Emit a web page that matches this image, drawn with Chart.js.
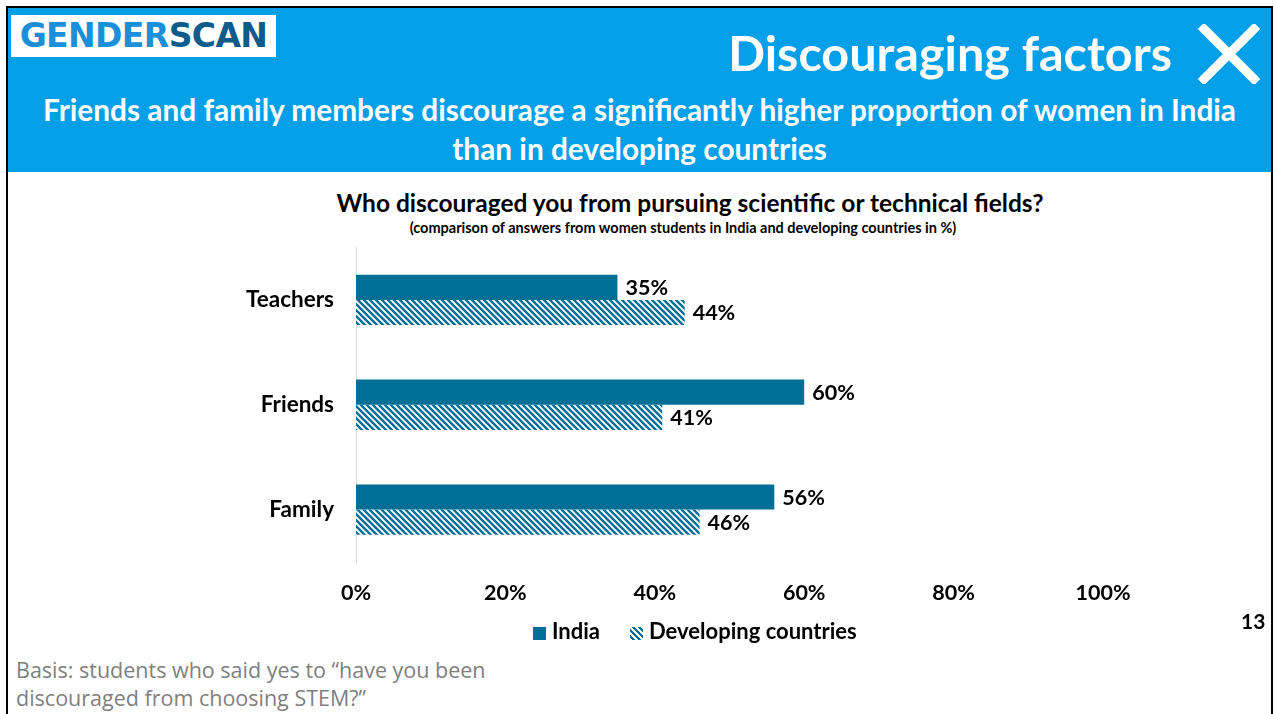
<!DOCTYPE html>
<html>
<head>
<meta charset="utf-8">
<script src="https://cdn.jsdelivr.net/npm/chart.js@4"></script>
<style>
  html, body { margin: 0; padding: 0; background: #fff; }
  body { width: 1275px; height: 714px; position: relative; overflow: hidden; font-family: Lato, "Open Sans", sans-serif; }
  .frame { position: absolute; left: 6px; top: 6px; width: 1263px; height: 720px; border: 2px solid #000; border-bottom: none; }
  .header { position: absolute; left: 8px; top: 8px; width: 1263px; height: 164px; background: #039fe9; }
  .logo { position: absolute; left: 11px; top: 15px; width: 265px; height: 42px; background: #fff; font: 800 33px "DejaVu Sans", sans-serif; letter-spacing: -0.6px; line-height: 42px; text-align: center; }
  .logo .g { color: #1b8fd9; }
  .logo .s { color: #0e5b8c; font-weight: 600; }
  .big { position: absolute; right: 103px; top: 22px; color: #fff; font: 700 48.5px/60px Lato, sans-serif; }
  .cross { position: absolute; left: 1198px; top: 24px; width: 62px; height: 60px; }
  .lead { position: absolute; left: 8px; width: 1263px; top: 90px; text-align: center; color: #fff; font: 700 29.8px/39px Lato, sans-serif; }
  .ctitle { position: absolute; left: 0; width: 1380px; top: 188px; text-align: center; font: 700 24.5px/30px Lato, sans-serif; color: #000; }
  .csub { position: absolute; left: 0; width: 1366px; top: 219px; text-align: center; font: 700 14.5px/18px Lato, sans-serif; color: #000; }
  .page { position: absolute; left: 1241px; top: 608px; font: 700 21px/26px Lato, sans-serif; }
  .note { position: absolute; left: 16px; top: 656px; color: #7f7f7f; font: 400 21.5px/28px "Open Sans", sans-serif; }
  .legend { position: absolute; left: 533px; top: 617px; height: 28px; font: 700 22px/28px Lato, sans-serif; color: #000; white-space: nowrap; }
  .legend span.sw { display: inline-block; width: 13px; height: 13px; vertical-align: -1px; margin-right: 6px; }
  .legend span.item2 { margin-left: 30px; }
  .sw.solid { background: #006f96; }
  .sw.hatch { background: repeating-linear-gradient(45deg, #fff 0 2px, #006f96 2px 4.2px); }
  #wrap { position: absolute; left: 0; top: 212px; width: 1275px; height: 408px; }
</style>
</head>
<body>
<div class="header"></div>
<div class="frame"></div>
<div class="logo"><span class="g">GENDER</span><span class="s">SCAN</span></div>
<div class="big">Discouraging factors</div>
<svg class="cross" viewBox="0 0 62 60"><path d="M6 5 L56 55 M56 5 L6 55" stroke="#fff" stroke-width="9" stroke-linecap="square"/></svg>
<div class="lead">Friends and family members discourage a significantly higher proportion of women in India<br>than in developing countries</div>
<div class="ctitle">Who discouraged you from pursuing scientific or technical fields?</div>
<div class="csub">(comparison of answers from women students in India and developing countries in %)</div>
<div id="wrap"><canvas id="chart"></canvas></div>
<div class="legend"><span class="sw solid"></span>India<span class="item2"><span class="sw hatch"></span>Developing countries</span></div>
<div class="page">13</div>
<div class="note">Basis: students who said yes to “have you been<br>discouraged from choosing STEM?”</div>

<script>
// Data
const categories = ['Teachers', 'Friends', 'Family'];
const indiaValues = [35, 60, 56];
const developingValues = [44, 41, 46];
const tickLabels = ['0%', '20%', '40%', '60%', '80%', '100%'];

const TEAL = '#006f96';

// diagonal stripes for the developing countries series
function stripePattern(ctx) {
    const c = document.createElement('canvas');
    c.width = 6; c.height = 6;
    const p = c.getContext('2d');
    p.fillStyle = '#fff';
    p.fillRect(0, 0, 6, 6);
    p.strokeStyle = TEAL;
    p.lineWidth = 2.4;
    p.beginPath();
    p.moveTo(-3, -3); p.lineTo(9, 9);
    p.moveTo(-9, -3); p.lineTo(3, 9);
    p.moveTo(3, -3); p.lineTo(15, 9);
    p.stroke();
    return ctx.createPattern(c, 'repeat');
}

// value labels at the end of each bar
const valueLabels = {
    id: 'valueLabels',
    afterDatasetsDraw(chart) {
        const ctx = chart.ctx;
        ctx.save();
        ctx.font = 'bold 21.5px Lato, sans-serif';
        ctx.fillStyle = '#000';
        ctx.textAlign = 'left';
        ctx.textBaseline = 'middle';
        chart.data.datasets.forEach((ds, i) => {
            chart.getDatasetMeta(i).data.forEach((bar, j) => {
                ctx.fillText(ds.data[j] + '%', bar.x + 8, bar.y + 1);
            });
        });
        ctx.restore();
    }
};

const canvas = document.getElementById('chart');
const ctx = canvas.getContext('2d');

new Chart(ctx, {
    type: 'bar',
    data: {
        labels: categories,
        datasets: [{
            label: 'India',
            data: indiaValues,
            backgroundColor: TEAL,
            borderWidth: 0
        }, {
            label: 'Developing countries',
            data: developingValues,
            backgroundColor: stripePattern(ctx),
            borderWidth: 0
        }]
    },
    options: {
        indexAxis: 'y',
        responsive: true,
        maintainAspectRatio: false,
        animation: false,
        layout: { padding: { top: 7, right: 172, left: 0, bottom: 0 } },
        datasets: { bar: { categoryPercentage: 0.48, barPercentage: 1.0 } },
        scales: {
            x: {
                min: 0,
                max: 100,
                ticks: {
                    stepSize: 20,
                    padding: 18,
                    color: '#000',
                    font: { family: 'Lato', size: 21.5, weight: 'bold' },
                    callback: (v, i) => tickLabels[i]
                },
                grid: { display: false, drawTicks: false },
                border: { display: false },
                afterFit: (s) => { s.height = 58; }
            },
            y: {
                ticks: {
                    padding: 22,
                    color: '#000',
                    font: { family: 'Lato', size: 22.5, weight: 'bold' }
                },
                grid: { display: false, drawTicks: false },
                border: { display: true, color: '#d9d9d9', width: 1 },
                afterFit: (s) => { s.width = 356; }
            }
        },
        plugins: {
            legend: { display: false },
            tooltip: { enabled: false }
        }
    },
    plugins: [valueLabels]
});
</script>
</body>
</html>
